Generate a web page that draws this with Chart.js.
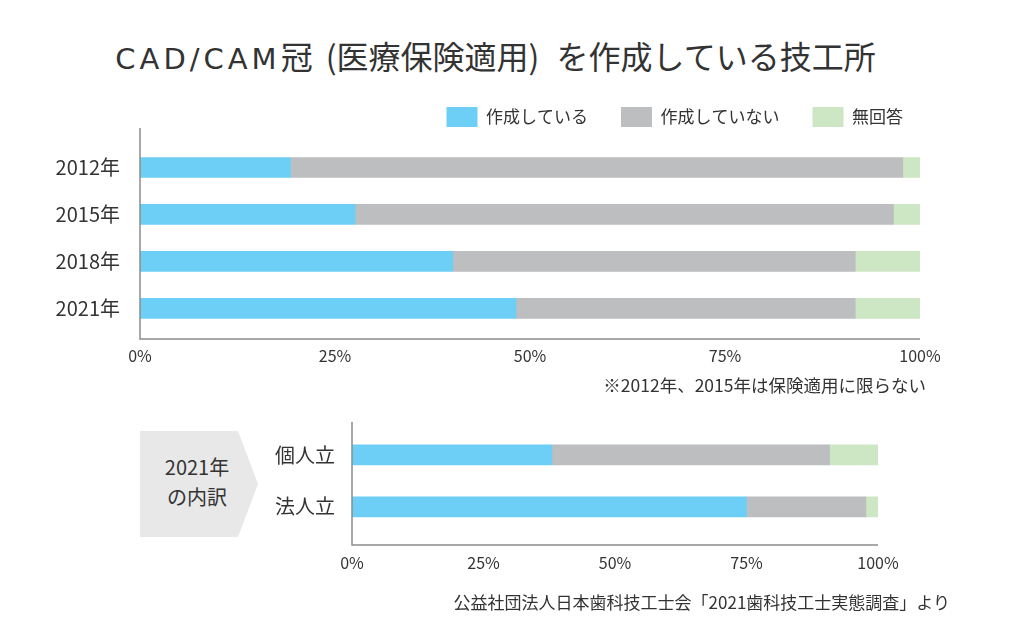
<!DOCTYPE html>
<html>
<head>
<meta charset="utf-8">
<title>CAD/CAM冠 (医療保険適用) を作成している技工所</title>
<script src="https://cdn.jsdelivr.net/npm/chart.js@4.4.1/dist/chart.umd.min.js"></script>
<style>
    body { margin: 0; width: 1024px; height: 640px; background: #fff; position: relative; overflow: hidden;
           font-family: 'Noto Sans CJK JP', 'Noto Sans', sans-serif; color: #333; }
    #title { position: absolute; left: 0; width: 991px; top: 34px; text-align: center; font-size: 32px; line-height: 42px; white-space: nowrap; }
    #title .latin { font-family: 'DejaVu Sans', sans-serif; font-size: 29px; letter-spacing: 4px; }
    #title .paren { margin-left: 6px; }
    #title .gap { margin-left: 10px; }
    #topChart { position: absolute; left: 0; top: 74px; }
    #bottomChart { position: absolute; left: 212px; top: 409px; }
    #note { position: absolute; right: 98px; top: 373px; font-size: 17.5px; line-height: 24px; }
    #badge { position: absolute; left: 140px; top: 431px; width: 118px; height: 106px; background: #e8e8e8;
             clip-path: polygon(0 0, 98px 0, 118px 50%, 98px 100%, 0 100%); }
    #badgeText { position: absolute; left: 140px; top: 452px; width: 114px; text-align: center; font-size: 20px; line-height: 30px; }
    #source { position: absolute; right: 74px; top: 590px; font-size: 17px; line-height: 24px; }
</style>
</head>
<body>
<div id="title"><span class="latin">CAD/CAM</span>冠 <span class="paren">(医療保険適用)</span> <span class="gap">を作成している技工所</span></div>
<canvas id="topChart" width="960" height="307"></canvas>
<div id="note">※2012年、2015年は保険適用に限らない</div>
<div id="badge"></div>
<div id="badgeText">2021年<br>の内訳</div>
<canvas id="bottomChart" width="706" height="185"></canvas>
<div id="source">公益社団法人日本歯科技工士会「2021歯科技工士実態調査」より</div>

<script>
    // values (percent)
    const years = ['2012年', '2015年', '2018年', '2021年'];
    const making = [19.3, 27.6, 40.1, 48.2];
    const notMaking = [78.5, 69.0, 51.6, 43.5];
    const noAnswer = [2.2, 3.4, 8.3, 8.3];

    const labs = ['個人立', '法人立'];
    const labsMaking = [38.0, 75.0];
    const labsNotMaking = [52.8, 22.7];
    const labsNoAnswer = [9.2, 2.3];

    const seriesNames = ['作成している', '作成していない', '無回答'];
    const seriesColors = ['#6dcff6', '#bcbec0', '#cde6c3'];
    const pctMax = 100;
    const pctStep = 25;

    // the L-shaped axis line reaches a little past the bars
    const axisFrame = {
        id: 'axisFrame',
        afterDatasetsDraw(chart, args, opts) {
            const ctx = chart.ctx;
            const a = chart.chartArea;
            ctx.save();
            ctx.strokeStyle = '#8c8c8c';
            ctx.lineWidth = 1.5;
            ctx.beginPath();
            ctx.moveTo(a.left, a.top - opts.above);
            ctx.lineTo(a.left, a.bottom + opts.below);
            ctx.lineTo(a.right, a.bottom + opts.below);
            ctx.stroke();
            ctx.restore();
        }
    };

    const legendGap = {
        id: 'legendGap',
        beforeInit(chart) {
            const fit = chart.legend.fit;
            chart.legend.fit = function () {
                fit.bind(chart.legend)();
                this.height += 7;
            };
        }
    };

    function makeDatasets(a, b, c) {
        return [a, b, c].map((vals, i) => ({
            label: seriesNames[i],
            data: vals,
            backgroundColor: seriesColors[i],
            borderWidth: 0,
            barThickness: 20
        }));
    }

    function makeOptions(labelPad, tickPad, pad, frame, showLegend) {
        return {
            responsive: false,
            animation: false,
            indexAxis: 'y',
            layout: { padding: pad },
            scales: {
                x: {
                    stacked: true,
                    min: 0,
                    max: pctMax,
                    grid: { display: false, drawTicks: false },
                    border: { display: false },
                    ticks: {
                        stepSize: pctStep,
                        padding: tickPad,
                        color: '#333',
                        font: { family: 'Noto Sans CJK JP', size: 16 },
                        callback: v => v + '%'
                    },
                    afterFit: s => { s.paddingRight = 40; }
                },
                y: {
                    stacked: true,
                    grid: { display: false, drawTicks: false },
                    border: { display: false },
                    ticks: {
                        padding: labelPad,
                        color: '#333',
                        font: { family: 'Noto Sans CJK JP', size: 20 }
                    },
                    afterFit: s => {
                        s.width = 140;
                        s.paddingTop = 0;
                        s.paddingBottom = 0;
                    }
                }
            },
            plugins: {
                axisFrame: frame,
                tooltip: { enabled: false },
                legend: {
                    display: showLegend,
                    position: 'top',
                    align: 'end',
                    labels: {
                        boxWidth: 31,
                        boxHeight: 20,
                        padding: 33,
                        color: '#333',
                        font: { family: 'Noto Sans CJK JP', size: 17 }
                    }
                }
            }
        };
    }

    new Chart(document.getElementById('topChart').getContext('2d'), {
        type: 'bar',
        data: { labels: years, datasets: makeDatasets(making, notMaking, noAnswer) },
        options: makeOptions(20, 15, { top: 0, right: 24 }, { above: 16, below: 7.2 }, true),
        plugins: [axisFrame, legendGap]
    });

    new Chart(document.getElementById('bottomChart').getContext('2d'), {
        type: 'bar',
        data: { labels: labs, datasets: makeDatasets(labsMaking, labsNotMaking, labsNoAnswer) },
        options: makeOptions(17, 21, { top: 20, right: 0 }, { above: 7, below: 12.2 }, false),
        plugins: [axisFrame]
    });
</script>
</body>
</html>
